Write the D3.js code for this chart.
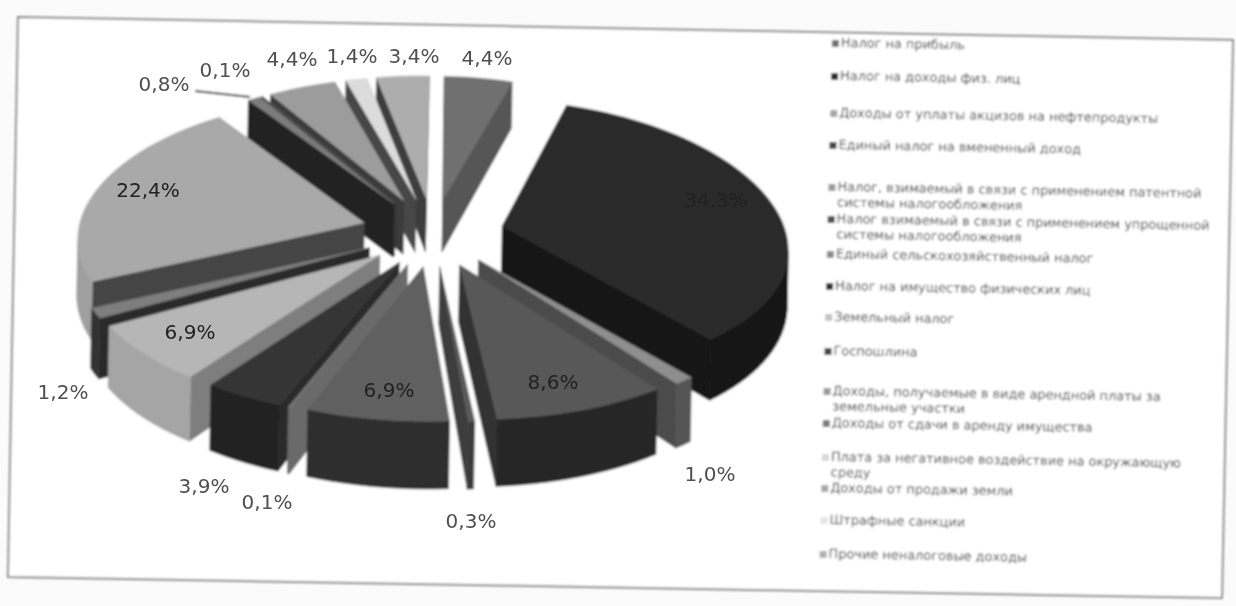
<!DOCTYPE html>
<html><head><meta charset="utf-8">
<script src="https://cdn.jsdelivr.net/npm/d3@7"></script>
<style>html,body{margin:0;padding:0;background:#fbfbfb;overflow:hidden}text{font-family:"DejaVu Sans",sans-serif}</style>
</head><body><svg id="c" width="1236" height="606"></svg>
<script>
// ---- data ----
const categories = ["Налог на прибыль","Налог на доходы физ. лиц","Доходы от уплаты акцизов на нефтепродукты","Единый налог на вмененный доход","Налог, взимаемый в связи с применением патентной системы налогообложения","Налог взимаемый в связи с применением упрощенной системы налогообложения","Единый сельскохозяйственный налог","Налог на имущество физических лиц","Земельный налог","Госпошлина","Доходы, получаемые в виде арендной платы за земельные участки","Доходы от сдачи в аренду имущества","Плата за негативное воздействие на окружающую среду","Доходы от продажи земли","Штрафные санкции","Прочие неналоговые доходы"];
const legendLines = [["Налог на прибыль"],["Налог на доходы физ. лиц"],["Доходы от уплаты акцизов на нефтепродукты"],["Единый налог на вмененный доход"],["Налог, взимаемый в связи с применением патентной","системы налогообложения"],["Налог взимаемый в связи с применением упрощенной","системы налогообложения"],["Единый сельскохозяйственный налог"],["Налог на имущество физических лиц"],["Земельный налог"],["Госпошлина"],["Доходы, получаемые в виде арендной платы за","земельные участки"],["Доходы от сдачи в аренду имущества"],["Плата за негативное воздействие на окружающую","среду"],["Доходы от продажи земли"],["Штрафные санкции"],["Прочие неналоговые доходы"]];
const values = [4.4,34.3,1.0,8.6,0.3,6.9,0.1,3.9,6.9,1.2,22.4,0.8,0.1,4.4,1.4,3.4];
const topColors = ["#6f6f6f","#2c2c2c","#8f8f8f","#585858","#5a5a5a","#606060","#7c7c7c","#343434","#b6b6b6","#7e7e7e","#a9a9a9","#7c7c7c","#5a5a5a","#9c9c9c","#dcdcdc","#adadad"];
const wallColors = ["#575757","#161616","#555555","#262626","#3a3a3a","#2f2f2f","#6a6a6a","#242424","#a5a5a5","#333333","#a0a0a0","#555555","#444444","#8c8c8c","#c8c8c8","#9c9c9c"];
const cutColors = ["#575757","#141414","#4c4c4c","#303030","#3c3c3c","#3a3a3a","#6a6a6a","#2a2a2a","#7e7e7e","#2c2c2c","#454545","#222222","#333333","#3a3a3a","#474747","#3c3c3c"];
const legendSwatch = ["#6f6f6f","#2c2c2c","#a5a5a5","#444444","#9c9c9c","#505050","#8c8c8c","#333333","#c4c4c4","#444444","#9a9a9a","#7c7c7c","#d8d8d8","#a8a8a8","#e4e4e4","#b0b0b0"];
const labelText = values.map(v => d3.format(".1f")(v).replace(".",",")+"%");
// ---- layout ----
const labelAt = [[487,58],[716,200],[710,474],[553,382],[471,521],[389,390],[267,502],[204,486],[190,332],[63,392],[148,190],[164,84],[225,70],[292,59],[352,56],[414,56]];
const darkLabel = new Set([1,3,5,8,10]);
const legendRows = [45,78,115,147,189,221,256,288,319,353,393,425,459,490,522,556];
const cx=433, cy=232, A=285, B=137, kx=.12, ky=.078, explode=.25, depth=55, kz=.15, tilt=.018;

const svg = d3.select("#c");
const defs = svg.append("defs");
defs.append("filter").attr("id","soft").attr("x","-5%").attr("y","-5%").attr("width","110%").attr("height","110%")
  .append("feGaussianBlur").attr("stdDeviation",.9);
defs.append("filter").attr("id","softer").attr("x","-5%").attr("y","-5%").attr("width","110%").attr("height","110%")
  .append("feGaussianBlur").attr("stdDeviation",.5);
const root = svg.append("g").attr("filter","url(#soft)");

// photographed page outline
root.append("polygon").attr("points",[[18,17],[1233,40],[1222,598],[8,577]].join(" "))
  .attr("fill","#ffffff").attr("stroke","#8a8a8a").attr("stroke-width",2);

const P=(u,v,z)=>{
  const dx=A*u/(1+kx*v), dy=-B*v/(1+ky*v)+(z?depth/(1+kz*v):0);
  return [cx+dx-dy*tilt, cy+dy+dx*tilt];
};
const pie=d3.pie().sort(null).value(d=>d);
const arcs=pie(values);
const line=d3.line();

const slices=arcs.map((a,i)=>{
  const mid=(a.startAngle+a.endAngle)/2;
  return {i,a,mid,du:explode*Math.sin(mid),dv:explode*Math.cos(mid)};
}).sort((p,q)=>Math.cos(q.mid)-Math.cos(p.mid));

const pie3d=root.append("g");
slices.forEach(s=>{
  const {a,du,dv,i}=s;
  const n=Math.max(2,Math.ceil((a.endAngle-a.startAngle)/.04));
  const ts=d3.range(n+1).map(k=>a.startAngle+(a.endAngle-a.startAngle)*k/n);
  const rim=(t,z)=>P(du+Math.sin(t),dv+Math.cos(t),z);
  const apex=z=>P(du,dv,z);
  const g=pie3d.append("g");
  const addFace=(polys,col)=>{
    const vis=polys.filter(p=>d3.polygonArea(p)>0);
    if(vis.length) g.append("path").attr("d",vis.map(p=>line(p)+"Z").join("")).attr("fill",col).attr("stroke",col).attr("stroke-width",.6);
  };
  addFace([[apex(0),rim(a.startAngle,0),rim(a.startAngle,1),apex(1)]],cutColors[i]);
  addFace([[rim(a.endAngle,0),apex(0),apex(1),rim(a.endAngle,1)]],cutColors[i]);
  const segs=d3.pairs(ts).map(([t0,t1])=>[rim(t0,0),rim(t1,0),rim(t1,1),rim(t0,1)]);
  addFace(segs,wallColors[i]);
  g.append("path").attr("d",line([apex(0),...ts.map(t=>rim(t,0))])+"Z").attr("fill",topColors[i]).attr("stroke",topColors[i]).attr("stroke-width",.5);
});

// leader line
root.append("line").attr("x1",195).attr("y1",91).attr("x2",250).attr("y2",97).attr("stroke","#333").attr("stroke-width",2);

// legend
const leg=root.append("g");
legendLines.forEach((lines,i)=>{
  const y=legendRows[i], x=835-(y-40)*.024;
  const g=leg.append("g").attr("transform",`translate(${x},${y}) rotate(1.05)`);
  g.append("rect").attr("x",-3).attr("y",-5).attr("width",7).attr("height",7).attr("fill",legendSwatch[i]);
  lines.forEach((t,k)=>g.append("text").attr("x",6).attr("y",2+k*15.5).attr("font-size",12.9).attr("fill","#3e3e3e").text(t));
});

// labels
svg.append("g").attr("filter","url(#softer)").selectAll("text").data(labelText).join("text")
  .attr("x",(d,i)=>labelAt[i][0]).attr("y",(d,i)=>labelAt[i][1]).attr("dy","0.36em")
  .attr("text-anchor","middle").attr("font-size",20)
  .attr("fill",(d,i)=>darkLabel.has(i)?"#202020":"#505050").text(d=>d);
</script></body></html>
